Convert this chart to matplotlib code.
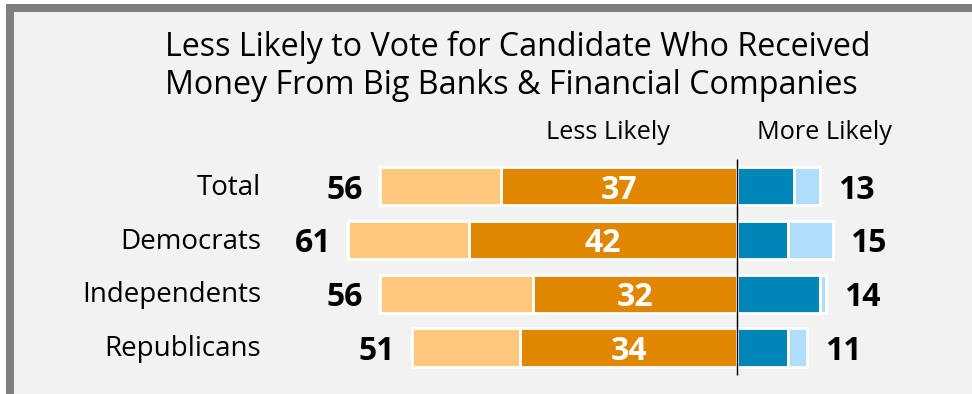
import matplotlib
matplotlib.use("Agg")
import matplotlib.pyplot as plt
from matplotlib.patches import Rectangle

plt.rcParams["font.family"] = ["Open Sans", "DejaVu Sans"]

# data
groups      = ["Total", "Democrats", "Independents", "Republicans"]
less_total  = [56, 61, 56, 51]
less_much   = [37, 42, 32, 34]
more_total  = [13, 15, 14, 11]
more_much   = [9, 8, 13, 8]
less_some   = [t - m for t, m in zip(less_total, less_much)]
more_some   = [t - m for t, m in zip(more_total, more_much)]

TITLE = ["Less Likely to Vote for Candidate Who Received",
         "Money From Big Banks & Financial Companies"]

# colours
BG        = "#F2F2F2"
FRAME     = "#7F7F7F"
LIGHT_ORG = "#FFC87C"
DARK_ORG  = "#E08600"
DARK_BLU  = "#0086B6"
LIGHT_BLU = "#B0DDFC"

W, H = 972, 394
PX_PER_UNIT = 6.37     # horizontal scale
ZERO_X = 737           # pixel position of the zero line
ROW0_Y, ROW_STEP = 186.4, 53.7

fig = plt.figure(figsize=(W / 100, H / 100), dpi=100, facecolor="white")

# frame: grey band on top and left, light panel inside
fig.patches.append(Rectangle((6 / W, 0), 1, 1 - 4 / H, transform=fig.transFigure,
                             facecolor=FRAME, edgecolor="none", zorder=-10))
fig.patches.append(Rectangle((14 / W, 0), 1, 1 - 12 / H, transform=fig.transFigure,
                             facecolor=BG, edgecolor="none", zorder=-9))

ax = fig.add_axes([0, 0, 1, 1])
ax.set_facecolor("none")
ax.set_xlim(-ZERO_X / PX_PER_UNIT, (W - ZERO_X) / PX_PER_UNIT)
ax.set_ylim((H - ROW0_Y) / ROW_STEP, -ROW0_Y / ROW_STEP)
ax.axis("off")

y = list(range(len(groups)))
bh = 0.71
edge = dict(edgecolor="white", linewidth=2.0)

ax.barh(y, [-v for v in less_much], height=bh, color=DARK_ORG, **edge)
ax.barh(y, [-v for v in less_some], left=[-v for v in less_much], height=bh,
        color=LIGHT_ORG, **edge)
ax.barh(y, more_much, height=bh, color=DARK_BLU, **edge)
ax.barh(y, more_some, left=more_much, height=bh, color=LIGHT_BLU, **edge)

ax.vlines(0, -0.51, len(groups) - 0.49, color="black", linewidth=1.0, zorder=5)

num_kw = dict(fontsize=23, fontweight="bold", va="baseline")
for i, g in enumerate(groups):
    ax.text(-74.7, i + 0.16, g, ha="right", va="baseline", fontsize=20,
            color="black")
    ax.text(-less_total[i] - 2.7, i + 0.23, str(less_total[i]), ha="right",
            color="black", **num_kw)
    ax.text(-less_much[i] / 2, i + 0.23, str(less_much[i]), ha="center",
            color="white", **num_kw)
    ax.text(more_total[i] + 2.8, i + 0.23, str(more_total[i]), ha="left",
            color="black", **num_kw)

ax.text(-20.25, -0.88, "Less Likely", ha="center", va="baseline", fontsize=18.2)
ax.text(13.8, -0.88, "More Likely", ha="center", va="baseline", fontsize=18.2)

fig.text(165 / W, 1 - 56 / H, TITLE[0], ha="left", va="baseline", fontsize=23.2)
fig.text(165 / W, 1 - 94 / H, TITLE[1], ha="left", va="baseline", fontsize=23.2)

fig.savefig("out.png", dpi=100, facecolor=fig.get_facecolor())
